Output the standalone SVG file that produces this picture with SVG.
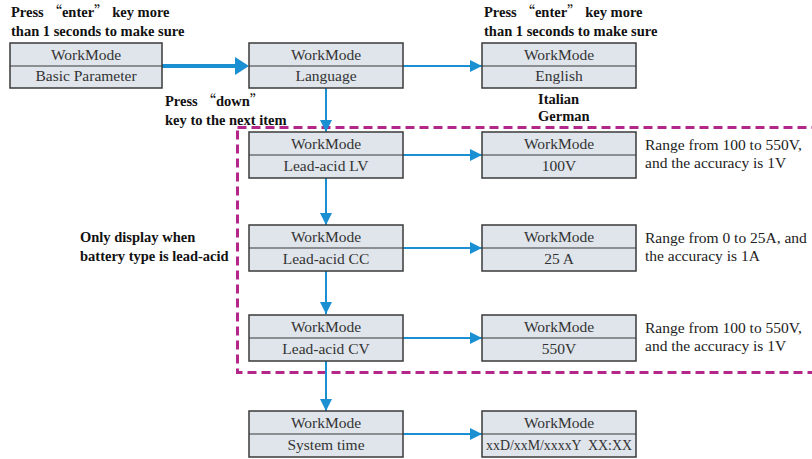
<svg xmlns="http://www.w3.org/2000/svg" width="812" height="459" viewBox="0 0 812 459">
<defs>
<style>
.box{fill:#dfe5eb;stroke:#3a3a3a;stroke-width:1.5}
.div{stroke:#3a3a3a;stroke-width:1.2}
.t{font-family:"Liberation Serif",serif;font-size:15.5px;fill:#333;text-anchor:middle}
.b{font-family:"Liberation Serif",serif;font-size:14.5px;font-weight:bold;fill:#111}
.r{font-family:"Liberation Serif",serif;font-size:15.5px;fill:#222}
.q{font-family:"Noto Sans CJK SC","Liberation Serif",sans-serif;font-weight:normal}
.c{stroke:#1a90d2;stroke-width:2;fill:none}
</style>
<marker id="ahs" viewBox="0 0 10 10" refX="10" refY="5" markerWidth="12" markerHeight="12" orient="auto" markerUnits="userSpaceOnUse">
<path d="M0,0 L10,5 L0,10 z" fill="#1a90d2"/>
</marker>
</defs>
<rect width="812" height="459" fill="#fff"/>
<rect x="237.5" y="127.5" width="580" height="245" fill="none" stroke="#b3268a" stroke-width="3" stroke-dasharray="9,5"/>
<g id="connectors">
<path d="M162,66 H236" stroke="#1a90d2" stroke-width="4"/>
<path d="M235,57 L249,66 L235,75 z" fill="#1a90d2"/>
<line class="c" x1="403" y1="66" x2="482" y2="66" marker-end="url(#ahs)"/>
<line class="c" x1="326" y1="88" x2="326" y2="132" marker-end="url(#ahs)"/>
<line class="c" x1="403" y1="155" x2="482" y2="155" marker-end="url(#ahs)"/>
<line class="c" x1="326" y1="178" x2="326" y2="225" marker-end="url(#ahs)"/>
<line class="c" x1="403" y1="248" x2="482" y2="248" marker-end="url(#ahs)"/>
<line class="c" x1="326" y1="271" x2="326" y2="314" marker-end="url(#ahs)"/>
<line class="c" x1="403" y1="338" x2="482" y2="338" marker-end="url(#ahs)"/>
<line class="c" x1="326" y1="361" x2="326" y2="411" marker-end="url(#ahs)"/>
<line class="c" x1="403" y1="434" x2="482" y2="434" marker-end="url(#ahs)"/>
</g>
<g id="n-basic"><rect class="box" x="10" y="43" width="152" height="45"/><line class="div" x1="10" y1="66" x2="162" y2="66"/><text class="t" x="86" y="60">WorkMode</text><text class="t" x="86" y="81">Basic Parameter</text></g>
<g id="n-language"><rect class="box" x="249" y="43" width="154" height="45"/><line class="div" x1="249" y1="66" x2="403" y2="66"/><text class="t" x="326" y="60">WorkMode</text><text class="t" x="326" y="81">Language</text></g>
<g id="n-english"><rect class="box" x="482" y="43" width="154" height="45"/><line class="div" x1="482" y1="66" x2="636" y2="66"/><text class="t" x="559" y="60">WorkMode</text><text class="t" x="559" y="81">English</text></g>
<g id="n-lv"><rect class="box" x="249" y="132" width="154" height="46"/><line class="div" x1="249" y1="155" x2="403" y2="155"/><text class="t" x="326" y="149">WorkMode</text><text class="t" x="326" y="171">Lead-acid LV</text></g>
<g id="n-100v"><rect class="box" x="482" y="132" width="154" height="46"/><line class="div" x1="482" y1="155" x2="636" y2="155"/><text class="t" x="559" y="149">WorkMode</text><text class="t" x="559" y="171">100V</text></g>
<g id="n-cc"><rect class="box" x="249" y="225" width="154" height="46"/><line class="div" x1="249" y1="248" x2="403" y2="248"/><text class="t" x="326" y="242">WorkMode</text><text class="t" x="326" y="264">Lead-acid CC</text></g>
<g id="n-25a"><rect class="box" x="482" y="225" width="154" height="46"/><line class="div" x1="482" y1="248" x2="636" y2="248"/><text class="t" x="559" y="242">WorkMode</text><text class="t" x="559" y="264">25 A</text></g>
<g id="n-cv"><rect class="box" x="249" y="315" width="154" height="46"/><line class="div" x1="249" y1="338" x2="403" y2="338"/><text class="t" x="326" y="332">WorkMode</text><text class="t" x="326" y="354">Lead-acid CV</text></g>
<g id="n-550v"><rect class="box" x="482" y="315" width="154" height="46"/><line class="div" x1="482" y1="338" x2="636" y2="338"/><text class="t" x="559" y="332">WorkMode</text><text class="t" x="559" y="354">550V</text></g>
<g id="n-time"><rect class="box" x="249" y="411" width="154" height="46"/><line class="div" x1="249" y1="434" x2="403" y2="434"/><text class="t" x="326" y="428">WorkMode</text><text class="t" x="326" y="450">System time</text></g>
<g id="n-date"><rect class="box" x="482" y="411" width="154" height="46"/><line class="div" x1="482" y1="434" x2="636" y2="434"/><text class="t" x="559" y="450" xml:space="preserve" textLength="146" lengthAdjust="spacingAndGlyphs">xxD/xxM/xxxxY  XX:XX</text><text class="t" x="559" y="428">WorkMode</text></g>
<g id="labels">
<text class="b" x="11" y="17" xml:space="preserve">Press <tspan class="q">“</tspan>enter<tspan class="q">”</tspan> key more</text>
<text class="b" x="11" y="36">than 1 seconds to make sure</text>
<text class="b" x="484" y="17" xml:space="preserve">Press <tspan class="q">“</tspan>enter<tspan class="q">”</tspan> key more</text>
<text class="b" x="484" y="36">than 1 seconds to make sure</text>
<text class="b" x="165" y="106" xml:space="preserve">Press <tspan class="q">“</tspan>down<tspan class="q">”</tspan></text>
<text class="b" x="165" y="125">key to the next item</text>
<text class="b" x="538" y="104">Italian</text>
<text class="b" x="538" y="121">German</text>
<text class="b" x="80" y="242">Only display when</text>
<text class="b" x="80" y="261">battery type is lead-acid</text>
<text class="r" x="645" y="150">Range from 100 to 550V,</text>
<text class="r" x="645" y="168">and the accuracy is 1V</text>
<text class="r" x="645" y="243">Range from 0 to 25A, and</text>
<text class="r" x="645" y="261">the accuracy is 1A</text>
<text class="r" x="645" y="333">Range from 100 to 550V,</text>
<text class="r" x="645" y="351">and the accuracy is 1V</text>
</g>
</svg>
